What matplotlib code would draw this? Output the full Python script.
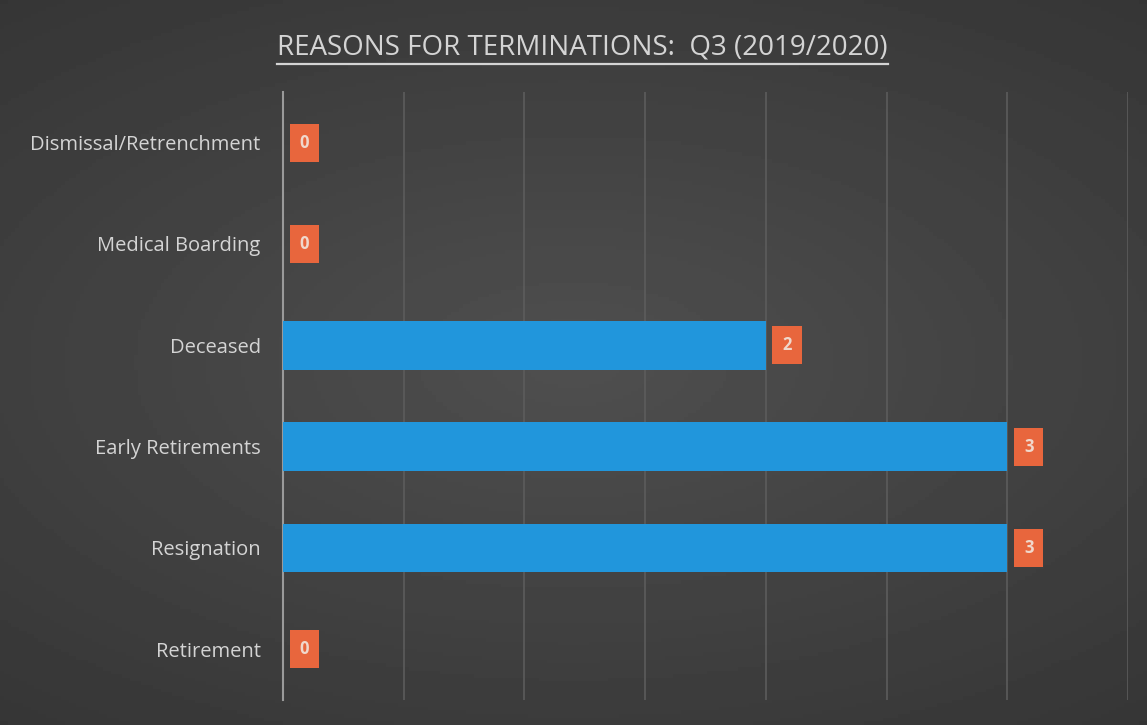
import matplotlib.pyplot as plt
import numpy as np
from matplotlib.lines import Line2D

categories = [
    "Retirement",
    "Resignation",
    "Early Retirements",
    "Deceased",
    "Medical Boarding",
    "Dismissal/Retrenchment",
]
counts = [0, 3, 3, 2, 0, 0]
title = "REASONS FOR TERMINATIONS:  Q3 (2019/2020)"

BAR_COLOR = "#2196dc"
LABEL_COLOR = "#e8663d"
TEXT_COLOR = "#d4d4d4"
GRID_COLOR = "#5c5c5c"

plt.rcParams["font.family"] = ["Open Sans", "DejaVu Sans"]

fig = plt.figure(figsize=(11.47, 7.25), dpi=100)

# subtle radial background like the screenshot
bg = fig.add_axes([0, 0, 1, 1], zorder=-10)
yy, xx = np.mgrid[-1:1:200j, -1:1:300j]
r = np.sqrt((xx * 0.9) ** 2 + (yy * 1.1) ** 2)
bg.imshow(0.31 - 0.07 * r, cmap="gray", vmin=0, vmax=1, aspect="auto",
          extent=[0, 1, 0, 1])
bg.axis("off")

ax = fig.add_axes([0.2467, 0.0345, 0.7367, 0.8386])
ax.set_facecolor("none")
y = np.arange(len(categories))
ax.barh(y, counts, height=0.48, color=BAR_COLOR, zorder=3)

ax.set_xlim(0, 3.5)
ax.set_ylim(-0.5, len(categories) - 0.5)
ax.set_xticks(np.arange(0, 3.51, 0.5))
ax.xaxis.grid(True, color=GRID_COLOR, linewidth=1.2)
ax.tick_params(axis="x", length=0, labelbottom=False)
ax.tick_params(axis="y", length=0, pad=16, labelsize=14.5, labelcolor=TEXT_COLOR)
ax.set_yticks(y, categories)
for side in ["top", "right", "bottom"]:
    ax.spines[side].set_visible(False)
ax.spines["left"].set_color("#9a9a9a")
ax.spines["left"].set_linewidth(1.5)

for yi, v in zip(y, counts):
    ax.annotate(
        str(v),
        xy=(v, yi),
        xytext=(12, 0),
        textcoords="offset points",
        ha="left",
        va="center",
        fontsize=12,
        fontweight="bold",
        color="#f0d8cc",
        zorder=5,
        bbox=dict(boxstyle="square,pad=0.6", facecolor=LABEL_COLOR,
                  edgecolor="none"),
    )

t = fig.text(0.508, 0.935, title, ha="center", va="center", fontsize=20,
             color=TEXT_COLOR)
fig.canvas.draw()
bb = t.get_window_extent().transformed(fig.transFigure.inverted())
fig.add_artist(Line2D([bb.x0, bb.x1], [bb.y0 - 0.004, bb.y0 - 0.004],
                      color=TEXT_COLOR, linewidth=1.6,
                      transform=fig.transFigure))

fig.savefig("out.png", dpi=100)
